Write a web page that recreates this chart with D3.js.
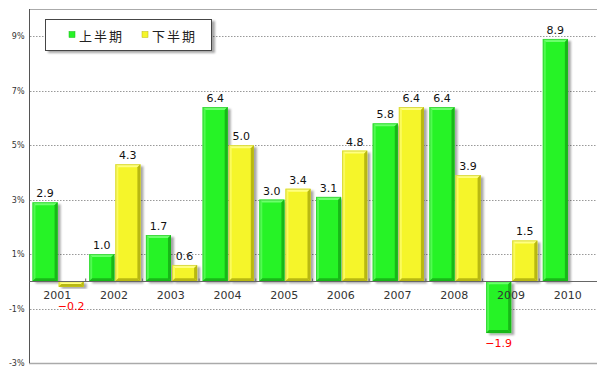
<!DOCTYPE html>
<html>
<head>
<meta charset="utf-8">
<script src="https://cdn.jsdelivr.net/npm/d3@7"></script>
<style>
  body { margin: 0; background: #fff; }
  svg { display: block; }
  .num { font-family: "DejaVu Sans", sans-serif; }
</style>
</head>
<body>
<div id="chart"></div>
<script>
const years = ['2001', '2002', '2003', '2004', '2005', '2006', '2007', '2008', '2009', '2010'];
const firstHalf = [2.9, 1.0, 1.7, 6.4, 3.0, 3.1, 5.8, 6.4, -1.9, 8.9];
const secondHalf = [-0.2, 4.3, 0.6, 5.0, 3.4, 4.8, 6.4, 3.9, 1.5, null];
const seriesNames = ['上半期', '下半期'];
const yTicks = [9, 7, 5, 3, 1, -1, -3];

const size = { w: 600, h: 372 };
const plot = { left: 29, right: 596, top: 9, bottom: 363 };

const svg = d3.select('#chart').append('svg')
    .attr('width', size.w).attr('height', size.h);

const defs = svg.append('defs');
const shadow = defs.append('filter').attr('id', 'shadow')
    .attr('x', '-20%').attr('y', '-20%').attr('width', '160%').attr('height', '160%');
shadow.append('feDropShadow').attr('dx', 3).attr('dy', 2).attr('stdDeviation', 1.2)
    .attr('flood-color', '#000').attr('flood-opacity', 0.35);

const colors = [
    { fill: '#27f327', light: '#6cff6c', dark: '#18b818' },
    { fill: '#f5f52a', light: '#ffff80', dark: '#b8b812' }
];

const y = d3.scaleLinear().domain([-3, 10]).range([plot.bottom, plot.top]);
const x0 = d3.scaleBand().domain(years).range([plot.left, plot.right]);
const x1 = d3.scaleBand().domain([0, 1]).range([3.5, x0.bandwidth() - 2]).paddingInner(0.04);

// grid
const grid = svg.append('g');
grid.selectAll('line.grid')
    .data(yTicks.filter(t => t > -3))
    .enter().append('line')
    .attr('x1', plot.left + 1).attr('x2', plot.right + 1)
    .attr('y1', d => Math.round(y(d)) + 0.5).attr('y2', d => Math.round(y(d)) + 0.5)
    .attr('stroke', '#999').attr('stroke-dasharray', '1.5,1.5');
grid.append('line')
    .attr('x1', plot.left).attr('x2', plot.right + 1)
    .attr('y1', Math.round(y(10)) + 0.5).attr('y2', Math.round(y(10)) + 0.5)
    .attr('stroke', '#aaa');
grid.append('line')
    .attr('x1', plot.left).attr('x2', plot.right + 1)
    .attr('y1', Math.round(y(-3)) + 0.5).attr('y2', Math.round(y(-3)) + 0.5)
    .attr('stroke', '#aaa').attr('stroke-width', 1.5);

// y axis
const yAxis = svg.append('g')
    .attr('transform', `translate(${plot.left + 0.5},0)`)
    .call(d3.axisLeft(y).tickValues(yTicks).tickSize(0).tickPadding(5).tickFormat(d => d + '%'));
yAxis.select('.domain').attr('stroke', '#555').attr('d', `M0,${plot.top}V${plot.bottom}`);
yAxis.selectAll('text').attr('class', 'num').attr('font-size', 8).attr('fill', '#333');

// bars
const rows = years.map((yr, i) => ({ yr, vals: [firstHalf[i], secondHalf[i]] }));
const groups = svg.append('g').selectAll('g')
    .data(rows).enter().append('g')
    .attr('transform', d => `translate(${x0(d.yr)},0)`);

const bars = groups.selectAll('g.bar')
    .data(d => d.vals.map((v, s) => ({ v, s })).filter(d => d.v !== null))
    .enter().append('g').attr('class', 'bar');

bars.each(function (d) {
    const g = d3.select(this);
    const bx = x1(d.s), bw = x1.bandwidth();
    const y0 = y(Math.max(0, d.v)), y1 = y(Math.min(0, d.v));
    const h = Math.max(y1 - y0, 1.5);
    const c = colors[d.s];
    g.append('rect').attr('x', bx).attr('y', y0).attr('width', bw).attr('height', h)
        .attr('fill', c.fill).attr('filter', 'url(#shadow)');
    const b = Math.min(3, h / 2);
    // bevel: top light, right and bottom dark
    g.append('path').attr('fill', c.light)
        .attr('d', `M${bx},${y0}H${bx + bw}L${bx + bw - b},${y0 + b}H${bx + b}Z`);
    g.append('path').attr('fill', c.light).attr('opacity', 0.6)
        .attr('d', `M${bx},${y0}L${bx + b},${y0 + b}V${y0 + h - b}L${bx},${y0 + h}Z`);
    g.append('path').attr('fill', c.dark)
        .attr('d', `M${bx + bw},${y0}V${y0 + h}L${bx + bw - b},${y0 + h - b}V${y0 + b}Z`);
    g.append('path').attr('fill', c.dark)
        .attr('d', `M${bx},${y0 + h}H${bx + bw}L${bx + bw - b},${y0 + h - b}H${bx + b}Z`);
    g.append('rect').attr('x', bx + 0.5).attr('y', y0 + 0.5).attr('width', bw - 1).attr('height', h - 1)
        .attr('fill', 'none').attr('stroke', c.dark).attr('stroke-opacity', 0.5);

    // negative labels go below the bar, and below the year label when the bar is short
    const labelY = d.v >= 0 ? y0 - 5 : Math.max(y1 + 14, y(0) + 29);
    g.append('text').attr('class', 'num')
        .attr('x', bx + bw / 2)
        .attr('y', labelY)
        .attr('text-anchor', 'middle').attr('font-size', 11)
        .attr('fill', d.v >= 0 ? '#111' : '#f00')
        .text(d.v >= 0 ? d.v.toFixed(1) : '−' + Math.abs(d.v).toFixed(1));
});

// x axis line and labels
const xAxis = svg.append('g').attr('transform', `translate(0,${Math.round(y(0)) + 0.5})`);
xAxis.append('line').attr('x1', plot.left).attr('x2', plot.right + 1).attr('stroke', '#666');
xAxis.selectAll('line.tick')
    .data(years.slice(1)).enter().append('line')
    .attr('x1', d => x0(d)).attr('x2', d => x0(d)).attr('y1', -3).attr('y2', 0)
    .attr('stroke', '#666');
xAxis.selectAll('text')
    .data(years).enter().append('text').attr('class', 'num')
    .attr('x', d => x0(d) + x0.bandwidth() / 2).attr('y', 17)
    .attr('text-anchor', 'middle').attr('font-size', 11).attr('fill', '#333')
    .text(d => d);

// legend
const legend = svg.append('g').attr('transform', 'translate(45.5,19.5)');
legend.append('rect').attr('width', 166).attr('height', 31)
    .attr('fill', '#fff').attr('stroke', '#444').attr('filter', 'url(#shadow)');
const items = legend.selectAll('g.item')
    .data(seriesNames).enter().append('g')
    .attr('transform', (d, i) => `translate(${23.5 + i * 73},0)`);
items.append('rect').attr('y', 12).attr('width', 6).attr('height', 6)
    .attr('fill', (d, i) => colors[i].fill).attr('stroke', (d, i) => colors[i].dark).attr('stroke-width', 0.5);
items.append('text').attr('x', 10).attr('y', 21)
    .attr('font-family', '"Noto Sans CJK JP", sans-serif').attr('font-size', 13)
    .attr('letter-spacing', 2).attr('fill', '#222')
    .text(d => d);
</script>
</body>
</html>
